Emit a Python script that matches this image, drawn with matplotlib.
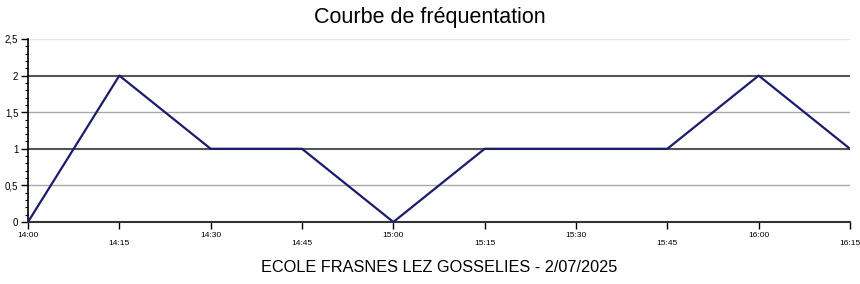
import numpy as np
import matplotlib.pyplot as plt
from matplotlib.ticker import MultipleLocator, FuncFormatter

plt.rcParams['font.family'] = ['Liberation Sans', 'DejaVu Sans']

heures = ['14:00', '14:15', '14:30', '14:45', '15:00', '15:15', '15:30', '15:45', '16:00', '16:15']
visiteurs = [0, 2, 1, 1, 0, 1, 1, 1, 2, 1]

fig = plt.figure(figsize=(8.6, 2.84), dpi=100)
ax = fig.add_axes([28 / 860, 1 - 222 / 284, 822 / 860, 183 / 284])

x = np.arange(len(heures))

# lignes de grille
for y in [0.5, 1.5]:
    ax.axhline(y, color='#a8a8a8', lw=1.0, zorder=1)
for y in [1, 2]:
    ax.axhline(y, color='#555555', lw=1.5, zorder=1)
ax.axhline(2.5, color='#e6e6e6', lw=1.0, zorder=1)

ax.plot(x, visiteurs, color='#1c1c6b', lw=1.6, zorder=3)

ax.set_xlim(0, len(heures) - 1)
ax.set_ylim(0, 2.5)

ax.yaxis.set_major_locator(MultipleLocator(0.5))
ax.yaxis.set_minor_locator(MultipleLocator(0.1))
ax.yaxis.set_major_formatter(FuncFormatter(lambda v, p: f'{v:g}'.replace('.', ',')))
ax.tick_params(axis='y', which='major', length=5, width=1, labelsize=7, pad=2)
ax.tick_params(axis='y', which='minor', length=2.5, width=0.8)

ax.set_xticks(x)
ax.set_xticklabels([])
ax.tick_params(axis='x', which='major', length=5, width=1)
for i, h in enumerate(heures):
    dy = -0.19 if i % 2 == 0 else -0.29
    ax.text(i, dy, h, ha='center', va='center', fontsize=6, clip_on=False)

for s in ['top', 'right']:
    ax.spines[s].set_visible(False)
ax.spines['left'].set_linewidth(1.2)
ax.spines['bottom'].set_linewidth(1.5)
ax.spines['bottom'].set_color('#333333')

fig.text(0.5, 1 - 18 / 284, 'Courbe de fréquentation', ha='center', va='center', fontsize=15.5)
fig.text(439 / 860, 1 - 267 / 284, 'ECOLE FRASNES LEZ GOSSELIES - 2/07/2025',
         ha='center', va='center', fontsize=11.7)

fig.savefig('out.png', dpi=100)
